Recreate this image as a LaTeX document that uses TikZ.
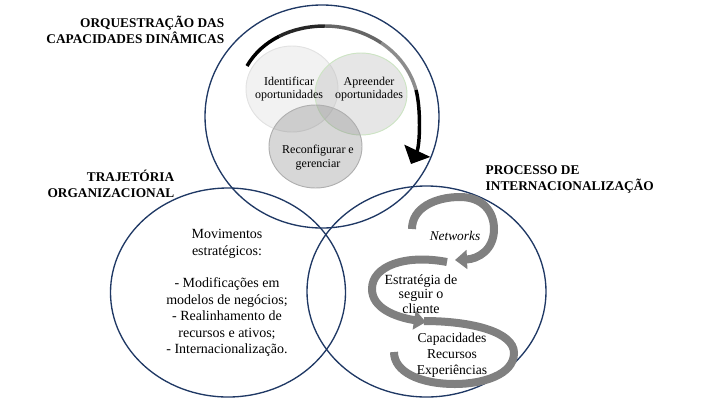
\documentclass[tikz,border=0pt]{standalone}
\usepackage{fontspec}
\setmainfont{Liberation Serif}
\usetikzlibrary{arrows.meta}
\definecolor{navy}{RGB}{31,56,100}
\definecolor{sgray}{RGB}{128,128,128}
\definecolor{cidf}{RGB}{242,242,242}
\definecolor{cidd}{RGB}{226,226,226}
\definecolor{capf}{RGB}{189,189,189}
\definecolor{capd}{RGB}{205,228,196}
\definecolor{crcf}{RGB}{122,122,122}
\definecolor{crcd}{RGB}{175,175,175}
\begin{document}
\begin{tikzpicture}[x=0.75pt,y=-0.75pt,
  bigc/.style={draw=navy,line width=1pt},
  head/.style={font=\bfseries\fontsize{10}{12}\selectfont},
  body/.style={font=\fontsize{10.5}{12.3}\selectfont,align=center},
  small/.style={font=\fontsize{9}{10}\selectfont,align=center},
  sarrow/.style={draw=sgray,line width=6pt},
  bigarr/.style={line width=2.6pt}]
\useasboundingbox (0,0) rectangle (718,405);
% small circles
\fill[cidf,draw=cidd,line width=0.7pt] (292,89) ellipse [x radius=46,y radius=43];
\fill[capf,fill opacity=0.38] (361,94) ellipse [x radius=46,y radius=41];
\draw[capd,line width=0.7pt] (361,94) ellipse [x radius=46,y radius=41];
\fill[crcf,fill opacity=0.3] (315.5,146.5) ellipse [x radius=46.5,y radius=41.5];
\draw[crcd,line width=0.7pt] (315.5,146.5) ellipse [x radius=46.5,y radius=41.5];
% big curved arrow
\coordinate (a0) at (247,66);
\coordinate (a1) at (279.25,36.25);
\coordinate (a2) at (325,26);
\coordinate (a3) at (381.4,43);
\coordinate (a4) at (416,90);
\coordinate (a5) at (411,164);
\draw[bigarr,black] (a0) .. controls (254.5,53) and (265.75,43) .. (a1);
\draw[bigarr,black!85] (a1) .. controls (292.75,29.5) and (308.5,26) .. (a2);
\draw[bigarr,black!60] (a2) .. controls (345,26) and (365,32) .. (a3);
\draw[bigarr,black!45] (a3) .. controls (397.75,54) and (410.5,70) .. (a4);
\draw[bigarr,black,-{Triangle[length=11pt,width=21pt]}] (a4) .. controls (421,108) and (420,145) .. (a5);
% big circles
\draw[bigc] (322,116.5) ellipse [x radius=117,y radius=111.5];
\draw[bigc] (228,292.5) ellipse [x radius=117.5,y radius=104.5];
\draw[bigc] (426.5,291.5) ellipse [x radius=119.5,y radius=105.5];
% S arrows
\coordinate (s0) at (412,229);
\coordinate (s1) at (455,260);
\coordinate (s2) at (447,262);
\coordinate (s3) at (426,322);
\coordinate (s4) at (424,321);
\coordinate (s5) at (394,352);
\draw[sarrow,-{Triangle[length=9pt,width=14pt]}] (s0) .. controls (412,208) and (435,197) .. (460,197) .. controls (483,197) and (494,212) .. (494,229) .. controls (494,250) and (478,259) .. (s1);
\draw[sarrow,-{Triangle[length=9pt,width=14pt]}] (s2) .. controls (405,254) and (372,266) .. (372,289) .. controls (372,308) and (395,317) .. (s3);
\draw[sarrow] (s4) .. controls (472,321) and (514,332) .. (514,353) .. controls (514,375) and (482,384) .. (455,384) .. controls (420,384) and (394,372) .. (s5);
% headings
\node[head,anchor=east,align=right] (h1) at (229,30) {ORQUESTRAÇÃO DAS\\CAPACIDADES DINÂMICAS};
\node[head,anchor=east,align=right] (h2) at (179,184) {TRAJETÓRIA\\ORGANIZACIONAL};
\node[head,anchor=west,align=left] (h3) at (481,179) {PROCESSO DE\\INTERNACIONALIZAÇÃO};
% small circle texts
\node[small] (t1) at (289,89) {Identificar\\oportunidades};
\node[small] (t2) at (369,89) {Apreender\\oportunidades};
\node[small,font=\fontsize{9}{10.5}\selectfont] (t3) at (318,158) {Reconfigurar e\\gerenciar};
% left text
\node[body] (lt) at (227,293) {Movimentos\\estratégicos:\\[12.3pt]- Modificações em\\modelos de negócios;\\- Realinhamento de\\recursos e ativos;\\- Internacionalização.};
% right texts
\node[body,font=\itshape\fontsize{10}{12}\selectfont] (nw) at (455,236) {Networks};
\node[body,font=\fontsize{10.5}{10.9}\selectfont] (es) at (421,294) {Estratégia de\\seguir o\\cliente};
\node[body,font=\fontsize{10.2}{12}\selectfont] (cp) at (452,355) {Capacidades\\Recursos\\Experiências};
\end{tikzpicture}
\end{document}
